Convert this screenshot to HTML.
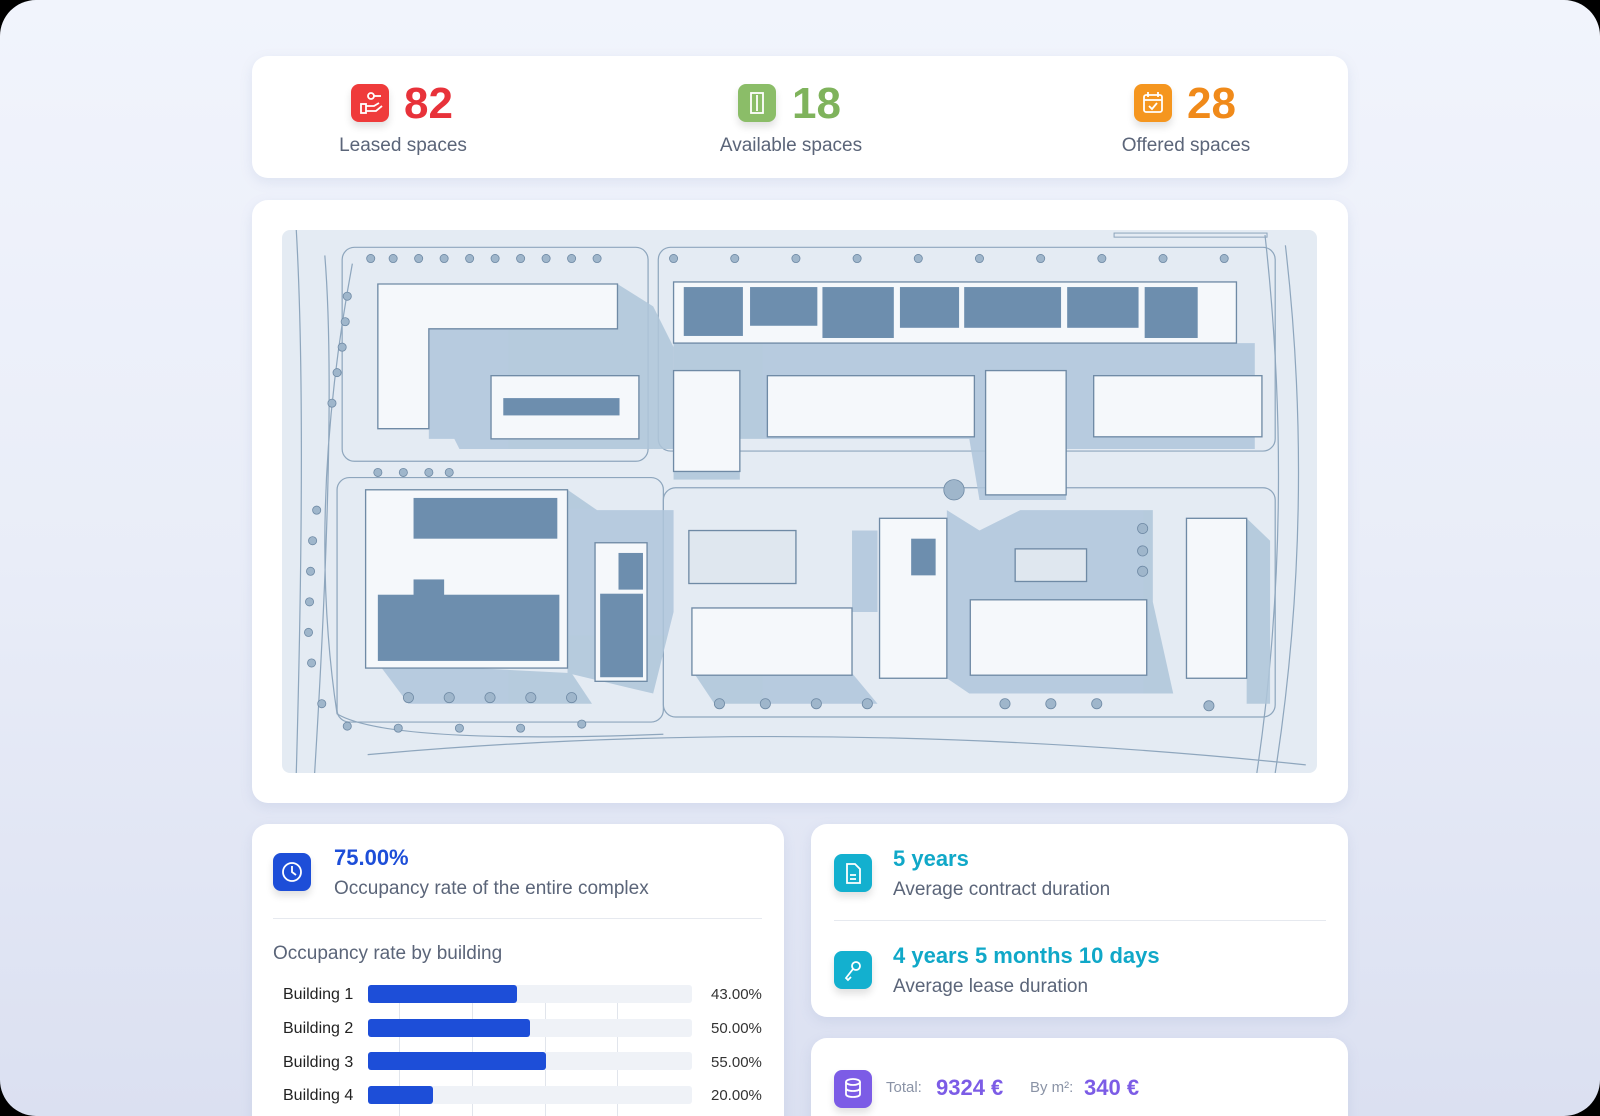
<!DOCTYPE html>
<html><head><meta charset="utf-8"><style>
html,body{margin:0;padding:0;background:#000}
#pg{position:relative;width:1600px;height:1116px;border-radius:36px;overflow:hidden;background:linear-gradient(180deg,#f1f4fc 0%,#e9edf8 50%,#dbe0f1 100%);font-family:"Liberation Sans",sans-serif}
.card{position:absolute;background:#fff;border-radius:16px;box-shadow:0 4px 12px rgba(120,140,190,.15)}
.ab{position:absolute;white-space:nowrap}
.ic{position:absolute;width:38px;height:38px;border-radius:8px;box-shadow:0 5px 8px rgba(0,0,0,.12)}
.num{position:absolute;font-weight:bold;font-size:44px;line-height:44px}
.lab{position:absolute;font-size:19px;color:#5b6579;transform:translateX(-50%)}
.bl{font-size:16px;color:#222;position:absolute;left:283px}
.tr{position:absolute;left:368px;width:324px;height:18px;background:#eff2f7;border-radius:3px}
.fl{height:18px;background:#1d4ed8;border-radius:3px}
.pc{position:absolute;left:711px;font-size:15px;color:#333}
</style></head><body><div id="pg">
<div class="card" style="left:252px;top:56px;width:1096px;height:122px"></div>
<div class="ic" style="left:351px;top:84px;background:#ef3b3b"><svg width="38" height="38"><g fill="none" stroke="#fff" stroke-width="1.8"><rect x="10" y="20" width="5" height="9"/><path d="M15 22h8l5-3M15 27h10l6-5"/><circle cx="20" cy="12" r="3"/><path d="M23 12h7"/></g></svg></div>
<div class="num" style="left:404px;top:82px;color:#e8323a">82</div>
<div class="lab" style="left:403px;top:135px">Leased spaces</div>
<div class="ic" style="left:738px;top:84px;background:#8bbd68"><svg width="38" height="38"><g fill="none" stroke="#fff" stroke-width="1.8"><rect x="13" y="9" width="12" height="20"/><path d="M19 11v16"/></g></svg></div>
<div class="num" style="left:792px;top:82px;color:#7fb35c">18</div>
<div class="lab" style="left:791px;top:135px">Available spaces</div>
<div class="ic" style="left:1134px;top:84px;background:#f5961f"><svg width="38" height="38"><g fill="none" stroke="#fff" stroke-width="1.8"><rect x="10" y="11" width="18" height="17" rx="2"/><path d="M10 16h18M14 8v5M24 8v5M15 22l3 3 5-6"/></g></svg></div>
<div class="num" style="left:1187px;top:82px;color:#f08a1a">28</div>
<div class="lab" style="left:1186px;top:135px">Offered spaces</div>

<div class="card" style="left:252px;top:200px;width:1096px;height:603px"></div>
<svg class="ab" style="left:282px;top:230px;border-radius:8px" width="1035" height="543" viewBox="276 225 1015 533" preserveAspectRatio="none">
<rect x="276" y="225" width="1015" height="533" fill="#e4ebf3"/>
<g fill="none" stroke="#8ea6bd" stroke-width="1.2">
<path d="M290 225 Q300 400 290 758M318 250 Q330 400 308 758M345 258 Q300 500 330 700 Q380 730 650 720"/>
<path d="M360 740 Q800 700 1280 750M1240 230 Q1270 500 1232 758M1260 240 Q1290 500 1250 758"/>
<rect x="335" y="242" width="300" height="210" rx="12"/><rect x="645" y="242" width="605" height="200" rx="12"/>
<rect x="330" y="468" width="320" height="240" rx="12"/><rect x="650" y="478" width="600" height="225" rx="12"/>
</g>
<g fill="#afc6da" opacity=".85">
<polygon points="420,320 610,320 640,345 640,440 450,440 445,430 420,430"/>
<polygon points="605,278 640,300 660,340 660,440 640,440 605,320"/>
<polygon points="660,336 1230,336 1230,440 1045,440 1045,490 960,490 950,430 725,430 725,470 660,470"/>
<polygon points="556,480 585,500 660,500 660,600 640,680 556,660"/>
<polygon points="835,520 860,520 860,600 835,600"/>
<polygon points="928,500 960,520 1000,500 1130,500 1130,590 1150,680 950,680 928,665"/>
<polygon points="1222,508 1245,530 1245,690 1222,690"/>
<polygon points="370,650 560,660 580,690 400,690"/>
<polygon points="680,660 835,660 860,690 700,690"/>
</g>
<g fill="#f5f8fb" stroke="#6f8aa5" stroke-width="1.3">
<polygon points="370,278 605,278 605,322 420,322 420,420 370,420"/>
<rect x="660" y="276" width="552" height="60"/>
<rect x="481" y="368" width="145" height="62"/>
<rect x="660" y="363" width="65" height="99"/>
<rect x="752" y="368" width="203" height="60"/>
<rect x="966" y="363" width="79" height="122"/>
<rect x="1072" y="368" width="165" height="60"/>
<rect x="358" y="480" width="198" height="175"/>
<rect x="583" y="532" width="51" height="136"/>
<rect x="678" y="596" width="157" height="66"/>
<rect x="862" y="508" width="66" height="157"/>
<rect x="951" y="588" width="173" height="74"/>
<rect x="1163" y="508" width="59" height="157"/>
<rect x="675" y="520" width="105" height="52" fill="#dfe7ef"/>
<rect x="995" y="538" width="70" height="32" fill="#dfe7ef"/>
</g>
<g fill="#6d8eae">
<rect x="670" y="281" width="58" height="48"/><rect x="735" y="281" width="66" height="38"/><rect x="806" y="281" width="70" height="50"/><rect x="882" y="281" width="58" height="40"/><rect x="945" y="281" width="95" height="40"/><rect x="1046" y="281" width="70" height="40"/><rect x="1122" y="281" width="52" height="50"/>
<rect x="493" y="390" width="114" height="17"/>
<rect x="405" y="488" width="141" height="40"/><rect x="405" y="568" width="30" height="20"/><rect x="370" y="583" width="178" height="65"/>
<rect x="606" y="542" width="24" height="36"/><rect x="588" y="582" width="42" height="82"/>
<rect x="893" y="528" width="24" height="36"/>
</g>
<g fill="#9fb6cb" stroke="#6f8aa5" stroke-width=".8">
<circle cx="363" cy="253" r="4"/><circle cx="385" cy="253" r="4"/><circle cx="410" cy="253" r="4"/><circle cx="435" cy="253" r="4"/><circle cx="460" cy="253" r="4"/><circle cx="485" cy="253" r="4"/><circle cx="510" cy="253" r="4"/><circle cx="535" cy="253" r="4"/><circle cx="560" cy="253" r="4"/><circle cx="585" cy="253" r="4"/>
<circle cx="660" cy="253" r="4"/><circle cx="720" cy="253" r="4"/><circle cx="780" cy="253" r="4"/><circle cx="840" cy="253" r="4"/><circle cx="900" cy="253" r="4"/><circle cx="960" cy="253" r="4"/><circle cx="1020" cy="253" r="4"/><circle cx="1080" cy="253" r="4"/><circle cx="1140" cy="253" r="4"/><circle cx="1200" cy="253" r="4"/>
<circle cx="340" cy="290" r="4"/><circle cx="338" cy="315" r="4"/><circle cx="335" cy="340" r="4"/><circle cx="330" cy="365" r="4"/><circle cx="325" cy="395" r="4"/>
<circle cx="310" cy="500" r="4"/><circle cx="306" cy="530" r="4"/><circle cx="304" cy="560" r="4"/><circle cx="303" cy="590" r="4"/><circle cx="302" cy="620" r="4"/><circle cx="305" cy="650" r="4"/><circle cx="315" cy="690" r="4"/>
<circle cx="400" cy="684" r="5"/><circle cx="440" cy="684" r="5"/><circle cx="480" cy="684" r="5"/><circle cx="520" cy="684" r="5"/><circle cx="560" cy="684" r="5"/>
<circle cx="705" cy="690" r="5"/><circle cx="750" cy="690" r="5"/><circle cx="800" cy="690" r="5"/><circle cx="850" cy="690" r="5"/>
<circle cx="985" cy="690" r="5"/><circle cx="1030" cy="690" r="5"/><circle cx="1075" cy="690" r="5"/><circle cx="1185" cy="692" r="5"/>
<circle cx="340" cy="712" r="4"/><circle cx="390" cy="714" r="4"/><circle cx="450" cy="714" r="4"/><circle cx="510" cy="714" r="4"/><circle cx="570" cy="710" r="4"/>
<circle cx="935" cy="480" r="10"/><circle cx="1120" cy="518" r="5"/><circle cx="1120" cy="540" r="5"/><circle cx="1120" cy="560" r="5"/>
<circle cx="370" cy="463" r="4"/><circle cx="395" cy="463" r="4"/><circle cx="420" cy="463" r="4"/><circle cx="440" cy="463" r="4"/>
</g>
<rect x="1092" y="228" width="150" height="4" fill="none" stroke="#8ea6bd"/>
</svg>

<div class="card" style="left:252px;top:824px;width:532px;height:320px"></div>
<div class="ic" style="left:273px;top:853px;background:#1d4ed8"><svg width="38" height="38"><g fill="none" stroke="#fff" stroke-width="1.8"><circle cx="19" cy="19" r="9"/><path d="M19 13v6l4 3"/></g></svg></div>
<div class="ab" style="left:334px;top:845px;font-size:22px;font-weight:bold;color:#1d4ed8">75.00%</div>
<div class="ab" style="left:334px;top:878px;font-size:19px;color:#5b6579">Occupancy rate of the entire complex</div>
<div class="ab" style="left:273px;top:918px;width:489px;height:1px;background:#e6e9ef"></div>
<div class="ab" style="left:273px;top:943px;font-size:19px;color:#5b6579">Occupancy rate by building</div>
<div class="ab" style="left:399px;top:1000px;width:1px;height:116px;background:#e1e5ec"></div>
<div class="ab" style="left:472px;top:1000px;width:1px;height:116px;background:#e1e5ec"></div>
<div class="ab" style="left:545px;top:1000px;width:1px;height:116px;background:#e1e5ec"></div>
<div class="ab" style="left:617px;top:1000px;width:1px;height:116px;background:#e1e5ec"></div>
<div class="bl" style="top:986px">Building 1</div><div class="tr" style="top:985px"><div class="fl" style="width:46%"></div></div><div class="pc" style="top:986px">43.00%</div>
<div class="bl" style="top:1020px">Building 2</div><div class="tr" style="top:1019px"><div class="fl" style="width:50%"></div></div><div class="pc" style="top:1020px">50.00%</div>
<div class="bl" style="top:1054px">Building 3</div><div class="tr" style="top:1052px"><div class="fl" style="width:55%"></div></div><div class="pc" style="top:1054px">55.00%</div>
<div class="bl" style="top:1087px">Building 4</div><div class="tr" style="top:1086px"><div class="fl" style="width:20%"></div></div><div class="pc" style="top:1087px">20.00%</div>

<div class="card" style="left:811px;top:824px;width:537px;height:193px"></div>
<div class="ic" style="left:834px;top:854px;background:#13b0cf"><svg width="38" height="38"><g fill="none" stroke="#fff" stroke-width="1.8"><path d="M13 10h8l5 5v14H13z"/><path d="M16 21h6M16 25h6"/></g></svg></div>
<div class="ab" style="left:893px;top:846px;font-size:22px;font-weight:bold;color:#10a8c8">5 years</div>
<div class="ab" style="left:893px;top:879px;font-size:19px;color:#5b6579">Average contract duration</div>
<div class="ab" style="left:834px;top:920px;width:492px;height:1px;background:#e6e9ef"></div>
<div class="ic" style="left:834px;top:951px;background:#13b0cf"><svg width="38" height="38"><g fill="none" stroke="#fff" stroke-width="1.8"><circle cx="22" cy="15" r="4"/><path d="M19 18l-7 9 2 2 3-3"/></g></svg></div>
<div class="ab" style="left:893px;top:943px;font-size:22px;font-weight:bold;color:#10a8c8">4 years 5 months 10 days</div>
<div class="ab" style="left:893px;top:976px;font-size:19px;color:#5b6579">Average lease duration</div>

<div class="card" style="left:811px;top:1038px;width:537px;height:120px"></div>
<div class="ic" style="left:834px;top:1070px;background:#7c5ce6"><svg width="38" height="38"><g fill="none" stroke="#fff" stroke-width="1.8"><ellipse cx="19" cy="12" rx="7" ry="3"/><path d="M12 12v12c0 2 3 3 7 3s7-1 7-3V12M12 18c0 2 3 3 7 3s7-1 7-3"/></g></svg></div>
<div class="ab" style="left:886px;top:1079px;font-size:15px;color:#8a93a6">Total:</div>
<div class="ab" style="left:936px;top:1075px;font-size:22px;font-weight:bold;color:#7c5ce6">9324 €</div>
<div class="ab" style="left:1030px;top:1079px;font-size:15px;color:#8a93a6">By m²:</div>
<div class="ab" style="left:1084px;top:1075px;font-size:22px;font-weight:bold;color:#7c5ce6">340 €</div>
</div></body></html>
